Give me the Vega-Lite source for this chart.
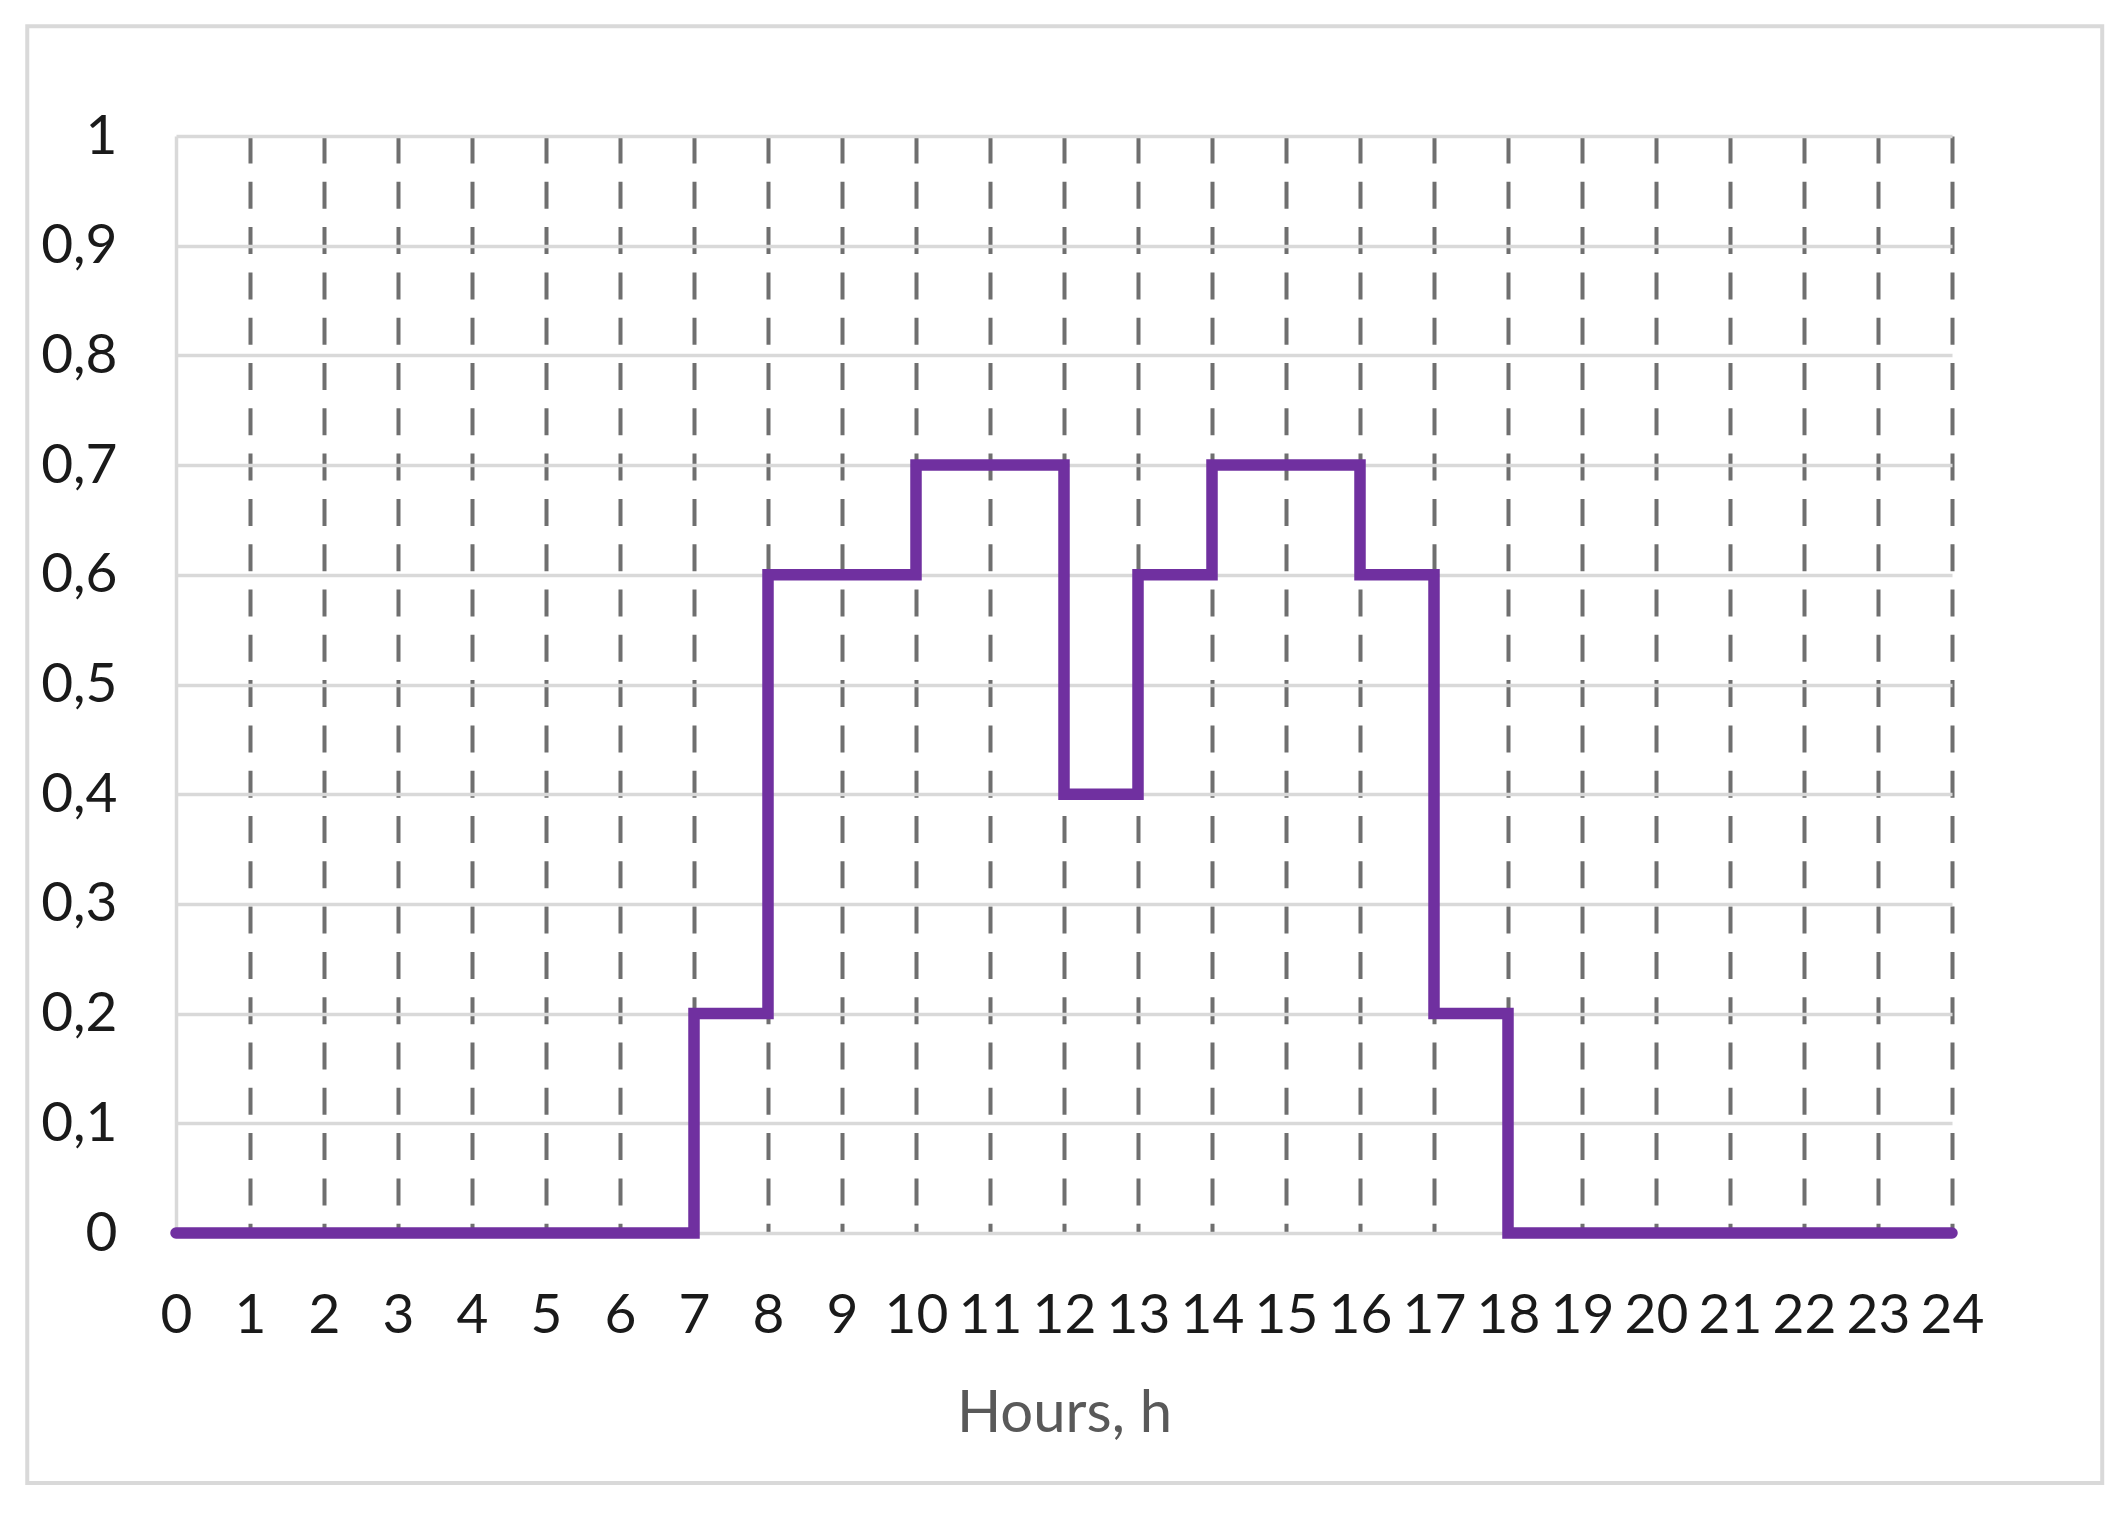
{
  "$schema": "https://vega.github.io/schema/vega-lite/v6.json",
  "autosize": "none",
  "width": 1776,
  "height": 1097,
  "padding": {"left": 176, "top": 136, "right": 168, "bottom": 285},
  "background": "#ffffff",
  "config": {
    "view": {"stroke": null},
    "font": "Lato"
  },
  "layer": [
    {
      "data": {"values": [{"frame": "chart area"}]},
      "mark": {"type": "rect", "filled": false, "stroke": "#d9d9d9", "strokeWidth": 4, "clip": false},
      "encoding": {
        "x": {"datum": -2.01, "type": "quantitative"},
        "x2": {"datum": 26.03},
        "y": {"datum": 1.1, "type": "quantitative"},
        "y2": {"datum": -0.228}
      }
    },
    {
      "data": {
        "values": [
          {"hour": 0, "value": 0},
          {"hour": 1, "value": 0},
          {"hour": 2, "value": 0},
          {"hour": 3, "value": 0},
          {"hour": 4, "value": 0},
          {"hour": 5, "value": 0},
          {"hour": 6, "value": 0},
          {"hour": 7, "value": 0.2},
          {"hour": 8, "value": 0.6},
          {"hour": 9, "value": 0.6},
          {"hour": 10, "value": 0.7},
          {"hour": 11, "value": 0.7},
          {"hour": 12, "value": 0.4},
          {"hour": 13, "value": 0.6},
          {"hour": 14, "value": 0.7},
          {"hour": 15, "value": 0.7},
          {"hour": 16, "value": 0.6},
          {"hour": 17, "value": 0.2},
          {"hour": 18, "value": 0},
          {"hour": 19, "value": 0},
          {"hour": 20, "value": 0},
          {"hour": 21, "value": 0},
          {"hour": 22, "value": 0},
          {"hour": 23, "value": 0},
          {"hour": 24, "value": 0}
        ]
      },
      "mark": {"type": "line", "interpolate": "step-after", "color": "#7030a0", "strokeWidth": 11.5, "strokeJoin": "miter", "strokeCap": "round", "clip": false},
      "encoding": {
        "x": {
          "field": "hour",
          "type": "quantitative",
          "scale": {"domain": [0, 24], "nice": false, "zero": false},
          "axis": {
            "values": [0,1,2,3,4,5,6,7,8,9,10,11,12,13,14,15,16,17,18,19,20,21,22,23,24],
            "format": "d",
            "grid": true,
            "gridColor": "#6f6f6f",
            "gridWidth": 4,
            "gridDash": [27, 18.3],
            "gridDashOffset": 0,
            "gridOpacity": {"condition": {"test": "datum.value === 0", "value": 0}, "value": 1},
            "domain": false,
            "ticks": false,
            "labelPadding": 56,
            "labelFontSize": 55,
            "labelColor": "#1a1a1a",
            "labelFont": "Lato",
            "labelOverlap": false,
            "labelFlush": false,
            "title": "Hours, h",
            "titleFont": "Lato",
            "titleFontSize": 58,
            "titleFontWeight": "normal",
            "titleColor": "#595959",
            "titlePadding": 42
          }
        },
        "y": {
          "field": "value",
          "type": "quantitative",
          "scale": {"domain": [0, 1], "nice": false},
          "axis": {
            "values": [0, 0.1, 0.2, 0.3, 0.4, 0.5, 0.6, 0.7, 0.8, 0.9, 1],
            "grid": true,
            "gridColor": "#d9d9d9",
            "gridWidth": 3.5,
            "domain": true,
            "domainColor": "#d9d9d9",
            "domainWidth": 3.5,
            "ticks": false,
            "labelPadding": 59,
            "labelFontSize": 55,
            "labelColor": "#1a1a1a",
            "labelFont": "Lato",
            "labelOverlap": false,
            "labelExpr": "replace(format(datum.value, '.1~f'), '.', ',')",
            "title": null
          }
        }
      }
    }
  ]
}
